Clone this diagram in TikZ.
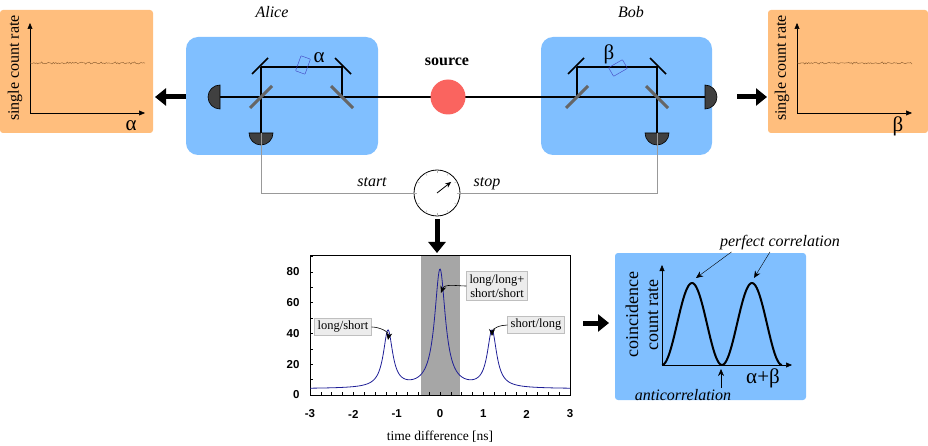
\documentclass[tikz,border=0pt]{standalone}
\usepackage{fontspec}
\setmainfont{Liberation Serif}
\newfontfamily\ticksf{Liberation Sans}
\usetikzlibrary{arrows.meta,positioning,calc}

\definecolor{boxblue}{RGB}{128,191,255}
\definecolor{boxorange}{RGB}{255,190,125}
\definecolor{srcred}{RGB}{250,100,95}
\definecolor{detgray}{RGB}{64,64,64}
\definecolor{plotblue}{RGB}{30,30,150}

\begin{document}
\begin{tikzpicture}[
    x=1pt, y=1pt,
    lab/.style={font=\fontsize{16}{18}\selectfont},
    grk/.style={font=\fontsize{21}{22}\selectfont},
    ilab/.style={font=\fontsize{16}{18}\selectfont\itshape},
    setup/.style={fill=boxblue, rounded corners=12pt},
    panel/.style={fill=boxorange, rounded corners=3pt},
    beam/.style={line width=1.6pt},
    mirror/.style={line width=1.6pt},
    bsplit/.style={line width=3pt, gray!80!black},
    det/.style={fill=detgray, draw=black, line width=0.6pt},
    plate/.style={draw=blue!50!gray, line width=0.4pt, rounded corners=0.5pt},
    cable/.style={gray!80, line width=0.6pt},
    bigarr/.style={line width=5pt, -{Triangle[length=11pt,width=17pt]}},
    axis/.style={line width=0.5pt, -{Triangle[length=6pt,width=5pt]}},
    tag/.style={fill=gray!15, draw=gray!50, font=\fontsize{12.5}{14}\selectfont, inner sep=3pt, align=center},
    tick/.style={font=\ticksf\bfseries\fontsize{11.5}{13}\selectfont},
    note/.style={-{Stealth[length=7pt,width=6pt]}, line width=0.6pt},
  ]
  \useasboundingbox (0,0) rectangle (928,-446);

  % === Setups ===
  \fill[setup] (186,-37) rectangle (378,-155);
  \fill[setup] (541,-37) rectangle (712,-155);
  \node[ilab] (alice) at (272,-12) {Alice};
  \node[ilab] (bob) at (631,-12) {Bob};

  % optical points
  \coordinate (abs1) at (261,-97);  \coordinate (abs2) at (342,-97);
  \coordinate (am1)  at (261,-67);  \coordinate (am2)  at (342,-67);
  \coordinate (bbs1) at (577,-97);  \coordinate (bbs2) at (657,-97);
  \coordinate (bm1)  at (577,-67);  \coordinate (bm2)  at (657,-67);
  \coordinate (adet) at (220,-97);  \coordinate (bdet) at (705,-97);
  \coordinate (adn)  at (261,-133); \coordinate (bdn)  at (657,-133);

  % beams
  \draw[beam] (adet) -- (bdet);
  \draw[beam] (am1) -- (am2) -- (abs2);
  \draw[beam] (adn) -- (am1);
  \draw[beam] (bm1) -- (bm2) -- (bdn);
  \draw[beam] (bbs1) -- (bm1);

  % mirrors and beam splitters
  \foreach \p in {am1,bm1}
    \draw[mirror] ($(\p)+(-9,-7)$) -- ($(\p)+(7,9)$);
  \foreach \p in {am2,bm2}
    \draw[mirror] ($(\p)+(-7,9)$) -- ($(\p)+(9,-7)$);
  \foreach \p in {abs1,bbs1}
    \draw[bsplit] ($(\p)+(-11,-11)$) -- ($(\p)+(11,11)$);
  \foreach \p in {abs2,bbs2}
    \draw[bsplit] ($(\p)+(-11,11)$) -- ($(\p)+(11,-11)$);

  % phase plates
  \draw[plate, rotate around={-20:(303,-65)}] (298,-57) rectangle (308,-73);
  \node[grk] (alpha) at (319,-58) {α};
  \draw[plate, rotate around={-60:(618,-68)}] (613,-60) rectangle (623,-76);
  \node[grk] (beta) at (609,-54) {β};

  % detectors
  \filldraw[det] (220,-85) arc[start angle=90, end angle=270, radius=12] -- cycle;
  \filldraw[det] (705,-85) arc[start angle=90, end angle=-90, radius=12] -- cycle;
  \filldraw[det] (249,-133) arc[start angle=180, end angle=360, radius=12] -- cycle;
  \filldraw[det] (645,-133) arc[start angle=180, end angle=360, radius=12] -- cycle;

  % source
  \node[circle, fill=srcred, minimum size=35pt, inner sep=0pt] (src) at (448,-97) {};
  \node[font=\fontsize{16}{18}\selectfont\bfseries] (srclbl) at (447,-62) {source};

  % === Single count panels ===
  \fill[panel] (0,-10) rectangle (153,-133);
  \fill[panel] (768,-10) rectangle (928,-133);
  \foreach \ox/\nm/\sym in {30/lft/α, 797/rgt/β} {
    \coordinate (\nm o) at (\ox,-113);
    \draw[axis] (\nm o) -- ++(0,90);
    \draw[axis] (\nm o) -- ++(115,0);
    \node[lab, rotate=90] at (\ox-15,-68) {single count rate};
    \node[grk] at (\ox+101,-126) {\sym};
    \draw[brown!70!black, line width=0.4pt]
      plot[domain=0:115, samples=90, smooth] ({\ox+\x},{-63+0.8*sin(37*\x)*cos(91*\x)+0.5*rand});
  }
  \draw[bigarr] (186,-97) -- (155,-97);
  \draw[bigarr] (737,-97) -- (767,-97);

  % === Timing ===
  \node[circle, draw, line width=0.8pt, minimum size=46pt, inner sep=0pt, fill=white] (clock) at (437,-193) {};
  \foreach \a in {0,30,...,330}
    \draw[gray!60, line width=0.4pt] ($(clock)+(\a:20)$) -- ($(clock)+(\a:23)$);
  \draw[line width=0.8pt, -{Stealth[length=6pt,width=5pt]}] (clock.center) -- ++(38:18);
  \draw[cable] (adn) -- (261,-193) -- (clock.west);
  \draw[cable] (bdn) -- (657,-193) -- (clock.east);
  \node[ilab, anchor=base] (start) at (372,-187) {start};
  \node[ilab, anchor=base] (stop) at (487,-187) {stop};
  \draw[bigarr] (clock.south) ++(0,-3) -- (437,-253);

  % === Histogram ===
  \fill[gray!70] (420.5,-255) rectangle (459.5,-395);
  \draw[line width=0.6pt] (310,-255) rectangle (570,-395);
  \foreach \v in {-3,...,3}
    \node[tick] at (440+43.33*\v,-414) {\v};
  \foreach \v in {-3,-2.75,...,3}
    \draw[line width=0.4pt] (440+43.33*\v,-395) -- ++(0,3);
  \foreach \v in {0,20,...,80}
    \node[tick, anchor=east] at (303,-395+1.54*\v) {\v};
  \foreach \v in {0,10,...,90}
    \draw[line width=0.4pt] (310,-395+1.54*\v) -- ++(3,0);
  \draw[plotblue, line width=0.8pt]
    plot[domain=-3:3, samples=400]
    ({440+43.33*\x},{-395+1.54*(4+77/(1+(\x/0.15)^2)+37/(1+((\x-1.2)/0.13)^2)+37/(1+((\x+1.2)/0.13)^2))});
  \node[font=\fontsize{13.5}{15}\selectfont] (tdiff) at (440,-437) {time difference [ns]};
  \coordinate (pkl) at (388,-340);
  \coordinate (pkc) at (441,-293);
  \coordinate (pkr) at (492,-336);
  \node[tag] (tls) at (343,-327) {long/short};
  \node[tag] (tcc) at (497,-286) {long/long+\\short/short};
  \node[tag] (tsl) at (536,-325) {short/long};
  \draw[note] (tls.east) to[out=0, in=80] (pkl);
  \draw[note] (tcc.west) to[out=180, in=70] (pkc);
  \draw[note] (tsl.west) to[out=180, in=90] (pkr);
  \draw[bigarr] (583,-323) -- (609,-323);

  % === Correlation panel ===
  \fill[boxblue, rounded corners=3pt] (615,-253) rectangle (806,-400);
  \coordinate (co) at (662,-365);
  \draw[axis] (co) -- ++(0,100);
  \draw[axis] (co) -- ++(130,0);
  \node[font=\fontsize{18}{20}\selectfont, rotate=90, align=center] (crate) at (642,-315) {coincidence\\count rate};
  \node[grk] (apb) at (763,-378) {α+β};
  \draw[line width=2pt]
    plot[domain=0:120, samples=120] ({662+\x},{-365+82*(1-cos(6*\x))/2});
  \node[ilab] (perf) at (780,-243) {perfect correlation};
  \node[ilab] (anti) at (683,-395) {anticorrelation};
  \draw[note, line width=0.4pt] (perf.south west) ++(15,2) -- (696,-278);
  \draw[note, line width=0.4pt] (perf.south) ++(-10,2) -- (754,-278);
  \draw[note, line width=0.4pt] (anti.north) ++(38,-2) -- (721,-369);
\end{tikzpicture}
\end{document}
